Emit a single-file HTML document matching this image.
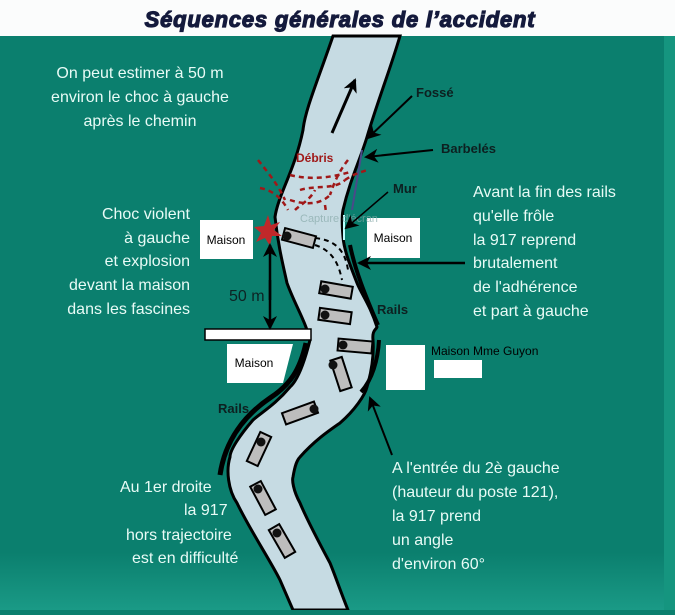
<!DOCTYPE html>
<html><head><meta charset="utf-8"><style>
html,body{margin:0;padding:0;}
body{width:675px;height:610px;overflow:hidden;background:#0b7f6e;font-family:"Liberation Sans",sans-serif;}
svg text{font-family:"Liberation Sans",sans-serif;}
</style></head><body>
<svg width="675" height="610" viewBox="0 0 675 610" xmlns="http://www.w3.org/2000/svg">
<defs>
<marker id="ah2" markerWidth="14" markerHeight="14" refX="12" refY="7" orient="auto" markerUnits="userSpaceOnUse"><path d="M0,0 L14,7 L0,14 L4,7 Z" fill="#000"/></marker>
<linearGradient id="bg" x1="0" y1="0" x2="0" y2="1"><stop offset="0.9" stop-color="#0b7f6e"/><stop offset="1" stop-color="#1a9a86"/></linearGradient>
</defs>
<rect x="0" y="36" width="675" height="574" fill="url(#bg)"/>
<rect x="664" y="36" width="11" height="574" fill="#15957f"/>
<rect x="0" y="0" width="675" height="36" fill="#fbfcfc"/>
<text x="340" y="27" text-anchor="middle" font-size="22" font-weight="bold" font-style="italic" fill="#141a3c" stroke="#141a3c" stroke-width="1.2" letter-spacing="0.8">Séquences générales de l’accident</text>

<!-- road -->
<path d="M333,36 C318,80 305,110 303,130 C295,170 278,195 275,217 C278,245 283,265 287,283 C295,305 305,320 310,340 C305,360 298,380 290,387 C275,405 262,412 253,420 C240,435 230,450 230,457 C226,470 228,490 237,503 C250,530 270,560 280,580 L293,610 L348,610 C340,590 335,575 330,563 C315,535 305,515 300,503 C293,490 292,480 293,477 C295,465 297,460 300,457 C315,440 330,430 340,423 C355,410 365,395 367,387 C372,370 374,355 373,340 C372,330 376,330 377,327 C370,305 362,295 357,283 C350,265 344,250 343,237 C342,225 342,215 343,210 C350,180 360,160 367,137 C378,100 390,70 400,36 Z" fill="#c6dbe3" stroke="#000" stroke-width="3"/>
<line x1="332" y1="133" x2="355" y2="80" stroke="#000" stroke-width="3" marker-end="url(#ah2)"/>
<!-- rails -->
<path d="M350,245 C355,270 365,295 378,325" stroke="#000" stroke-width="4" fill="none"/>
<path d="M379,340 C378,360 372,380 361,392" stroke="#000" stroke-width="4" fill="none"/>
<path d="M306,343 C300,370 290,385 270,398 C245,415 225,440 220,475" stroke="#000" stroke-width="5" fill="none"/>
<line x1="362" y1="150" x2="352" y2="210" stroke="#4a4a8a" stroke-width="2"/>
<line x1="344" y1="215" x2="344" y2="240" stroke="#bff" stroke-width="2"/>

<rect x="205" y="329" width="106" height="11" fill="#fff" stroke="#000" stroke-width="1.5"/>
<rect x="200" y="220" width="53" height="39" fill="#fff"/>
<text x="226" y="244" text-anchor="middle" font-size="12" fill="#000">Maison</text>
<rect x="367" y="218" width="53" height="40" fill="#fff"/>
<text x="393" y="242" text-anchor="middle" font-size="12" fill="#000">Maison</text>
<path d="M227,344 L293,344 L283,383 L227,383 Z" fill="#fff"/>
<text x="254" y="367" text-anchor="middle" font-size="12" fill="#000">Maison</text>
<rect x="386" y="345" width="39" height="45" fill="#fff"/>
<rect x="434" y="360" width="48" height="18" fill="#fff"/>
<text x="431" y="355" font-size="12" fill="#000">Maison Mme Guyon</text>

<g stroke="#a01818" stroke-width="2.5" stroke-dasharray="5,4" fill="none">
<path d="M258,160 C270,175 278,185 285,200"/>
<path d="M260,188 C270,190 280,195 288,210"/>
<path d="M290,175 C310,180 330,178 350,172"/>
<path d="M300,190 C315,185 335,190 345,180"/>
<path d="M348,160 C340,170 335,180 330,195"/>
<path d="M290,200 C305,205 320,205 330,195"/>
<path d="M295,210 C300,205 310,200 315,190"/>
<path d="M345,180 C352,175 360,172 368,170"/>
<path d="M325,205 L326,212"/>
</g>
<text x="296" y="162" font-size="12" font-weight="bold" fill="#a01818">Débris</text>
<text x="300" y="222" font-size="11" fill="#8aa" opacity="0.7">Capture d'écran</text>
<path d="M268,215 L271,225 L280,222 L274,230 L282,236 L272,236 L270,246 L265,238 L256,242 L261,233 L254,227 L264,226 Z" fill="#c0282a"/>

<g fill="#bdbdbd" stroke="#000" stroke-width="2">
<rect x="283" y="232" width="32" height="12" transform="rotate(15 299 238)"/>
<rect x="320" y="284" width="32" height="12" transform="rotate(10 336 290)"/>
<rect x="319" y="310" width="32" height="12" transform="rotate(8 335 316)"/>
<rect x="338" y="340" width="34" height="12" transform="rotate(5 355 346)"/>
<rect x="325" y="368" width="32" height="12" transform="rotate(72 341 374)"/>
<rect x="283" y="407" width="34" height="12" transform="rotate(-20 300 413)"/>
<rect x="243" y="443" width="32" height="12" transform="rotate(-65 259 449)"/>
<rect x="247" y="492" width="32" height="12" transform="rotate(62 263 498)"/>
<rect x="266" y="535" width="32" height="12" transform="rotate(60 282 541)"/>
</g>
<g fill="#111">
<circle cx="287" cy="236" r="4.5"/><circle cx="325" cy="289" r="4.5"/><circle cx="325" cy="315" r="4.5"/>
<circle cx="343" cy="345" r="4.5"/><circle cx="333" cy="365" r="4.5"/><circle cx="314" cy="409" r="4.5"/>
<circle cx="261" cy="442" r="4.5"/><circle cx="258" cy="489" r="4.5"/><circle cx="277" cy="533" r="4.5"/>
</g>
<path d="M315,245 C330,250 338,260 342,280" stroke="#000" stroke-width="2" stroke-dasharray="5,4" fill="none"/>
<path d="M315,238 C335,240 345,250 348,270" stroke="#000" stroke-width="2" stroke-dasharray="5,4" fill="none"/>

<line x1="270" y1="300" x2="270" y2="245" stroke="#000" stroke-width="2.5" marker-end="url(#ah2)"/>
<line x1="270" y1="280" x2="270" y2="328" stroke="#000" stroke-width="2.5" marker-end="url(#ah2)"/>
<text x="229" y="301" font-size="16" fill="#0d2424">50 m</text>

<line x1="412" y1="96" x2="368" y2="138" stroke="#000" stroke-width="2" marker-end="url(#ah2)"/>
<line x1="433" y1="150" x2="366" y2="157" stroke="#000" stroke-width="2" marker-end="url(#ah2)"/>
<line x1="388" y1="192" x2="346" y2="228" stroke="#000" stroke-width="1.5" marker-end="url(#ah2)"/>
<line x1="465" y1="263" x2="359" y2="263" stroke="#000" stroke-width="2.5" marker-end="url(#ah2)"/>
<line x1="392" y1="455" x2="370" y2="398" stroke="#000" stroke-width="2" marker-end="url(#ah2)"/>

<g font-size="13" fill="#0d2020" font-weight="bold">
<text x="416" y="97">Fossé</text>
<text x="441" y="153">Barbelés</text>
<text x="393" y="193">Mur</text>
<text x="377" y="314">Rails</text>
<text x="218" y="413">Rails</text>
</g>

<g font-size="16" fill="#e8fbf6">
<text x="140" y="78" text-anchor="middle">On peut estimer à 50 m</text>
<text x="140" y="102" text-anchor="middle">environ le choc à gauche</text>
<text x="140" y="126" text-anchor="middle">après le chemin</text>
<g text-anchor="end">
<text x="190" y="219">Choc violent</text>
<text x="190" y="243">à gauche</text>
<text x="190" y="266">et explosion</text>
<text x="190" y="290">devant la maison</text>
<text x="190" y="314">dans les fascines</text>
</g>
<text x="473" y="197">Avant la fin des rails</text>
<text x="473" y="221">qu'elle frôle</text>
<text x="473" y="245">la 917 reprend</text>
<text x="473" y="268">brutalement</text>
<text x="473" y="292">de l'adhérence</text>
<text x="473" y="316">et part à gauche</text>
<text x="120" y="492">Au 1er droite</text>
<text x="184" y="515">la 917</text>
<text x="126" y="540">hors trajectoire</text>
<text x="132" y="563">est en difficulté</text>
<text x="392" y="473">A l'entrée du 2è gauche</text>
<text x="392" y="497">(hauteur du poste 121),</text>
<text x="392" y="521">la 917 prend</text>
<text x="392" y="545">un angle</text>
<text x="392" y="569">d'environ 60°</text>
</g>
</svg>
</body></html>
